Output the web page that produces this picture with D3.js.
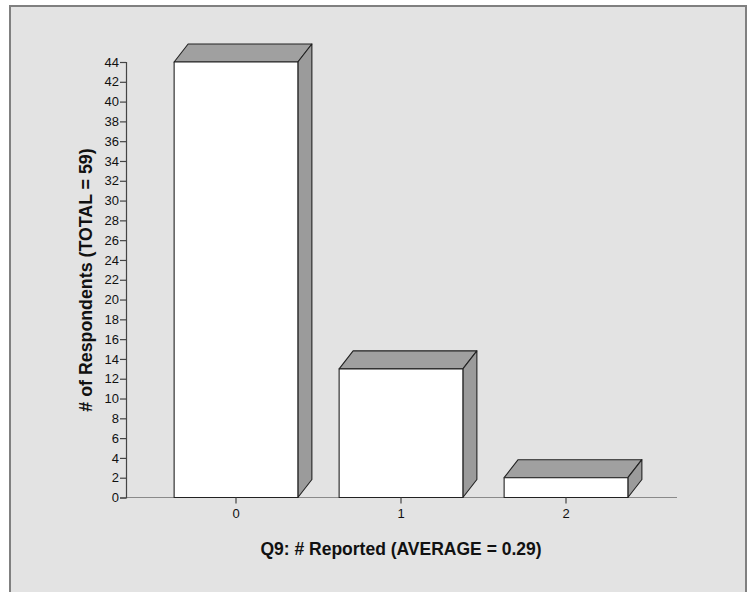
<!DOCTYPE html>
<html><head><meta charset="utf-8">
<script src="https://cdn.jsdelivr.net/npm/d3@7"></script>
<style>body{margin:0;background:#fff;} text{font-family:"Liberation Sans",Arial,sans-serif;}</style>
</head><body>
<svg id="chart" width="752" height="592"></svg>
<script>
const categories = ["0", "1", "2"];
const counts = [44, 13, 2];
const yTicks = d3.range(0, 45, 2);
const xTitle = "Q9: # Reported (AVERAGE = 0.29)";
const yTitle = "# of Respondents (TOTAL = 59)";

const svg = d3.select("#chart");
svg.append("rect").attr("x", 10).attr("y", 6).attr("width", 736).attr("height", 600)
  .attr("fill", "#e3e3e3").attr("stroke", "#808080").attr("stroke-width", 2);

const x = d3.scaleBand().domain(categories).range([153.5, 648.5]).paddingInner(0.25).paddingOuter(0.125);
const y = d3.scaleLinear().domain([0, 44]).range([497.5, 62]);
const dx = 14, dy = -18;
const axisX = 126;

// x axis line
svg.append("line").attr("x1", axisX).attr("x2", 677).attr("y1", y(0)).attr("y2", y(0))
  .attr("stroke", "#8a8a8a").attr("stroke-width", 1.2);

// bars
const g = svg.append("g").attr("stroke", "#222").attr("stroke-width", 1.1).attr("stroke-linejoin", "round");
categories.forEach((c, i) => {
  const x0 = x(c), x1 = x(c) + x.bandwidth(), yt = y(counts[i]), yb = y(0);
  g.append("path").attr("fill", "#a0a0a0")
    .attr("d", `M${x0},${yt}L${x0+dx},${yt+dy}L${x1+dx},${yt+dy}L${x1},${yt}Z`);
  g.append("path").attr("fill", "#9b9b9b")
    .attr("d", `M${x1},${yt}L${x1+dx},${yt+dy}L${x1+dx},${yb+dy}L${x1},${yb}Z`);
  g.append("rect").attr("x", x0).attr("y", yt).attr("width", x.bandwidth()).attr("height", yb - yt)
    .attr("fill", "#fff");
});

// y axis
const ya = svg.append("g").attr("transform", `translate(${axisX},0)`)
  .call(d3.axisLeft(y).tickValues(yTicks).tickSize(6).tickPadding(1));
ya.attr("font-size", 13);
ya.select(".domain").attr("stroke", "#444").attr("stroke-width", 1.2);
ya.selectAll(".tick line").attr("stroke", "#444").attr("stroke-width", 1.2);
ya.selectAll(".tick text").attr("font-size", 13).attr("fill", "#111")
  .attr("font-family", "'Liberation Sans',Arial,sans-serif");

// x axis ticks
const xa = svg.append("g").attr("transform", `translate(0,${y(0)})`)
  .call(d3.axisBottom(x).tickSize(6).tickPadding(5));
xa.attr("font-size", 13);
xa.select(".domain").remove();
xa.selectAll(".tick line").attr("stroke", "#444").attr("stroke-width", 1.2);
xa.selectAll(".tick text").attr("font-size", 13).attr("fill", "#111")
  .attr("font-family", "'Liberation Sans',Arial,sans-serif");

// titles
svg.append("text").attr("x", 401).attr("y", 555).attr("text-anchor", "middle")
  .attr("font-size", 17.5).attr("font-weight", "bold").attr("fill", "#111").text(xTitle);
svg.append("text").attr("transform", "translate(92,280) rotate(-90)").attr("text-anchor", "middle")
  .attr("font-size", 17.8).attr("font-weight", "bold").attr("fill", "#111").text(yTitle);
</script>
</body></html>
